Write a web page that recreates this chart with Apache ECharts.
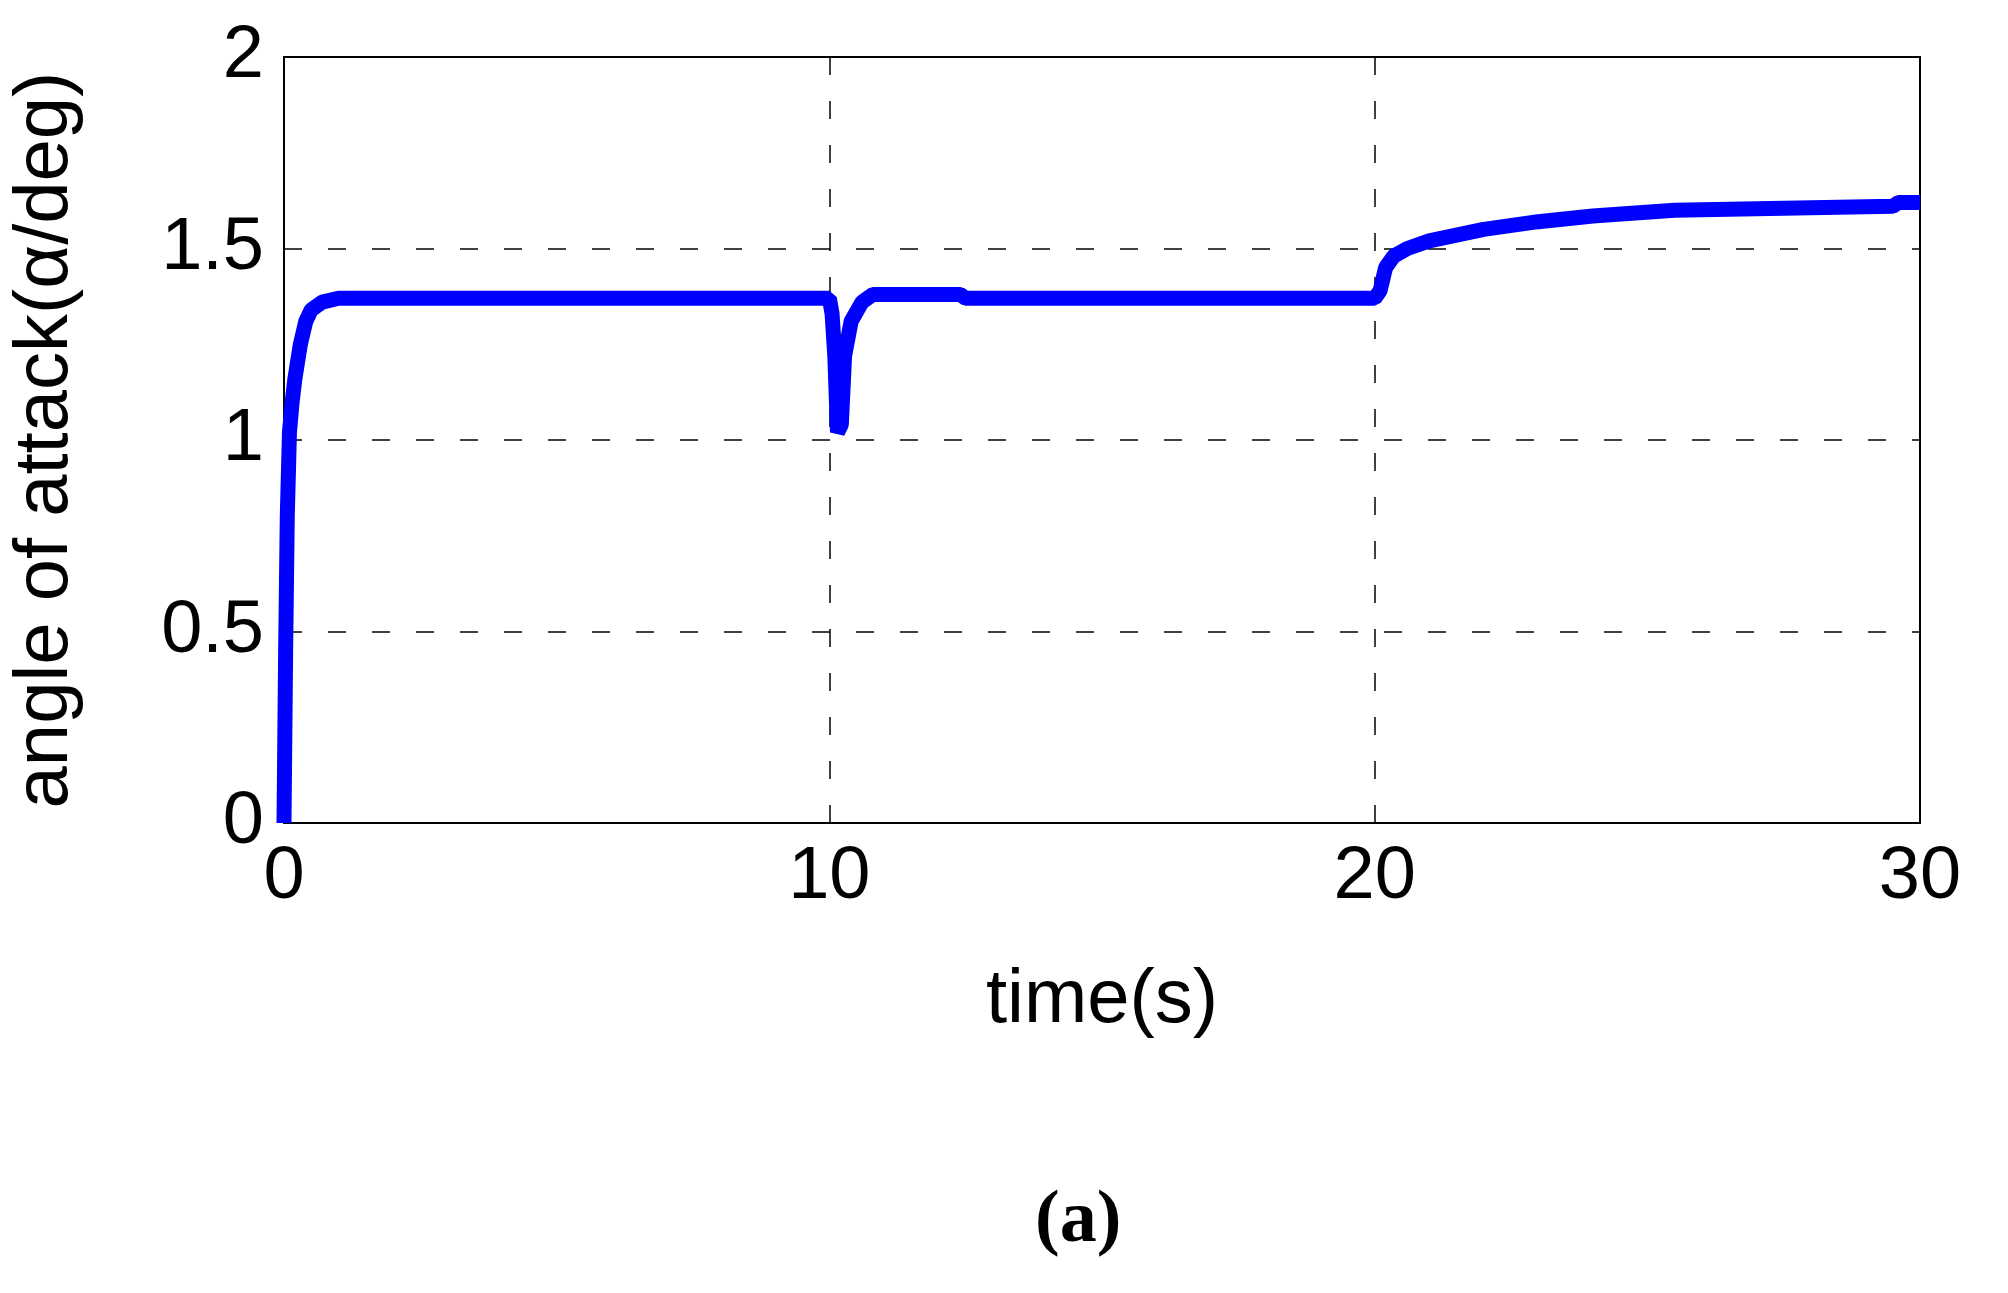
<!DOCTYPE html>
<html>
<head>
<meta charset="utf-8">
<script src="https://cdn.jsdelivr.net/npm/echarts@6/dist/echarts.min.js"></script>
<style>
  html, body { margin: 0; padding: 0; background: #fff; }
  #main { width: 2008px; height: 1293px; }
</style>
</head>
<body>
<div id="main"></div>
<script>
// time (s) and angle of attack (deg)
var timeS = [0, 0.03, 0.06, 0.1, 0.15, 0.2, 0.3, 0.4, 0.5, 0.7, 1.0, 10.0, 10.05, 10.1, 10.15, 10.22, 10.28, 10.4, 10.6, 10.8, 12.4, 12.5, 20.0, 20.1, 20.2, 20.35, 20.6, 21.0, 21.5, 22.0, 23.0, 24.0, 25.5, 29.5, 29.6, 30.0];
var alphaDeg = [0, 0.45, 0.8, 1.02, 1.1, 1.16, 1.25, 1.31, 1.34, 1.36, 1.37, 1.37, 1.33, 1.22, 1.02, 1.04, 1.22, 1.31, 1.36, 1.38, 1.38, 1.37, 1.37, 1.39, 1.45, 1.48, 1.50, 1.52, 1.535, 1.55, 1.57, 1.585, 1.60, 1.61, 1.62, 1.62];
var xTicks = [0, 10, 20, 30];
var yTicks = [0, 0.5, 1, 1.5, 2];

var chart = echarts.init(document.getElementById('main'));
var font = 'Liberation Sans, Arial, sans-serif';

chart.setOption({
  animation: false,
  grid: { left: 276, top: 57, right: 88, bottom: 470, show: true, borderColor: '#000', borderWidth: 2 },
  graphic: [
    { type: 'text', left: 1035, top: 1185,
      style: { text: '(a)', font: 'bold 74px "Liberation Serif", "Times New Roman", serif', fill: '#000' } }
  ],
  xAxis: {
    type: 'value', min: 0, max: 30, interval: 10,
    name: 'time(s)', nameLocation: 'middle', nameGap: 140,
    nameTextStyle: { fontFamily: font, fontSize: 76, color: '#000' },
    axisLine: { show: false },
    axisTick: { show: false },
    axisLabel: { fontFamily: font, fontSize: 74, color: '#000', margin: 18,
      formatter: function (v) { return xTicks.indexOf(v) >= 0 ? String(v) : ''; } },
    splitLine: { show: true, lineStyle: { color: '#000', width: 1.5, type: [18, 26] } }
  },
  yAxis: {
    type: 'value', min: 0, max: 2, interval: 0.5,
    name: 'angle of attack(\u03b1/deg)', nameLocation: 'middle', nameGap: 200,
    nameTextStyle: { fontFamily: font, fontSize: 76, color: '#000' },
    axisLine: { show: false },
    axisTick: { show: false },
    axisLabel: { fontFamily: font, fontSize: 74, color: '#000', margin: 20,
      formatter: function (v) { return yTicks.indexOf(v) >= 0 ? String(v) : ''; } },
    splitLine: { show: true, lineStyle: { color: '#000', width: 1.5, type: [18, 26] } }
  },
  series: [{
    type: 'line',
    data: timeS.map(function (t, i) { return [t, alphaDeg[i]]; }),
    showSymbol: false,
    lineStyle: { color: '#0000ff', width: 15 },
    clip: true
  }]
});
</script>
</body>
</html>
